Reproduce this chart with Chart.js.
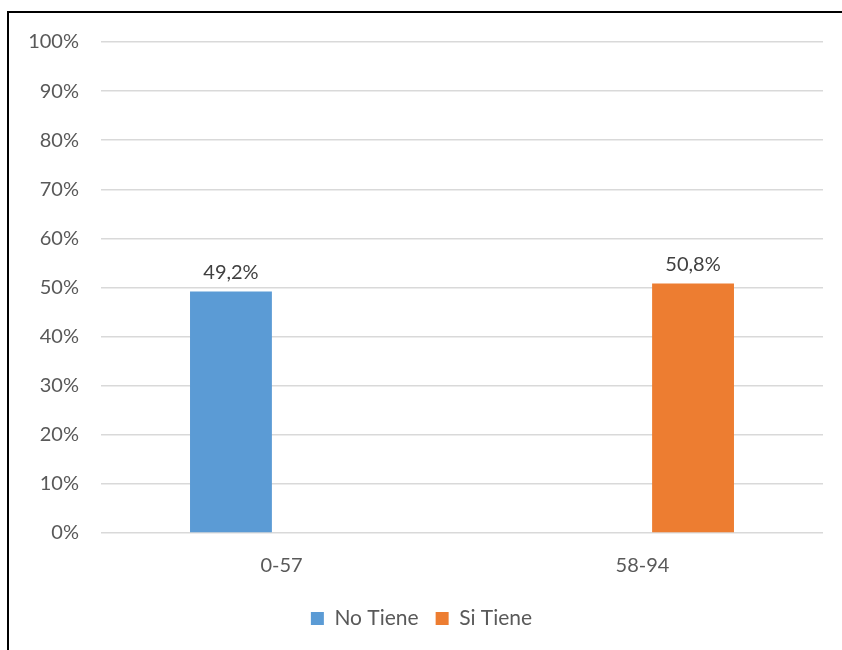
<!DOCTYPE html>
<html>
<head>
<meta charset="utf-8">
<script src="https://cdn.jsdelivr.net/npm/chart.js@4"></script>
<style>
  body { margin: 0; background: #fff; overflow: hidden; }
  #frame { position: absolute; left: 7px; top: 11px; width: 900px; height: 700px; border: 2px solid #000; box-sizing: border-box; }
  #wrap { position: absolute; left: 0; top: 0; width: 842px; height: 650px; }
</style>
</head>
<body>
<div id="frame"></div>
<div id="wrap"><canvas id="myChart"></canvas></div>
<script>
// data
const categories = ['0-57', '58-94'];
const seriesNames = ['No Tiene', 'Si Tiene'];
const noTiene = [49.2, null];
const siTiene = [null, 50.8];
const tickLabels = ['0%', '10%', '20%', '30%', '40%', '50%', '60%', '70%', '80%', '90%', '100%'];

const FONT = 'Lato, "Open Sans", sans-serif';
const GREY = '#595959';

// labels above bars, "49,2%" style
const barLabels = {
  id: 'barLabels',
  afterDatasetsDraw(chart) {
    const ctx = chart.ctx;
    ctx.save();
    ctx.font = '20px ' + FONT;
    ctx.fillStyle = '#404040';
    ctx.textAlign = 'center';
    ctx.textBaseline = 'bottom';
    chart.data.datasets.forEach((ds, i) => {
      chart.getDatasetMeta(i).data.forEach((bar, j) => {
        const v = ds.data[j];
        if (v == null) return;
        ctx.fillText(v.toFixed(1).replace('.', ',') + '%', bar.x, bar.y - 9);
      });
    });
    ctx.restore();
  }
};

const data = {
  labels: categories,
  datasets: [
    { label: seriesNames[0], data: noTiene, backgroundColor: '#5b9bd5' },
    { label: seriesNames[1], data: siTiene, backgroundColor: '#ed7d31' }
  ]
};

const options = {
  responsive: true,
  maintainAspectRatio: false,
  animation: false,
  datasets: { bar: { categoryPercentage: 0.56, barPercentage: 0.81 } },
  layout: { padding: { left: 20, right: 19, top: 42, bottom: 11 } },
  plugins: {
    legend: {
      position: 'bottom',
      labels: { color: GREY, font: { family: FONT, size: 21 }, boxWidth: 13, boxHeight: 13, padding: 17 }
    },
    tooltip: { enabled: false }
  },
  scales: {
    x: {
      grid: { display: false },
      border: { display: false },
      ticks: { color: GREY, font: { family: FONT, size: 20 }, padding: 13 }
    },
    y: {
      min: 0,
      max: 100,
      afterFit(scale) { scale.width = 81; },
      grid: { color: '#d9d9d9', lineWidth: 1.5, drawTicks: false },
      border: { display: false },
      ticks: {
        stepSize: 10,
        padding: 22,
        color: GREY,
        font: { family: FONT, size: 20 },
        callback: (v) => tickLabels[Math.round(v / 10)]
      }
    }
  }
};

new Chart(document.getElementById('myChart'), { type: 'bar', data, options, plugins: [barLabels] });
</script>
</body>
</html>
